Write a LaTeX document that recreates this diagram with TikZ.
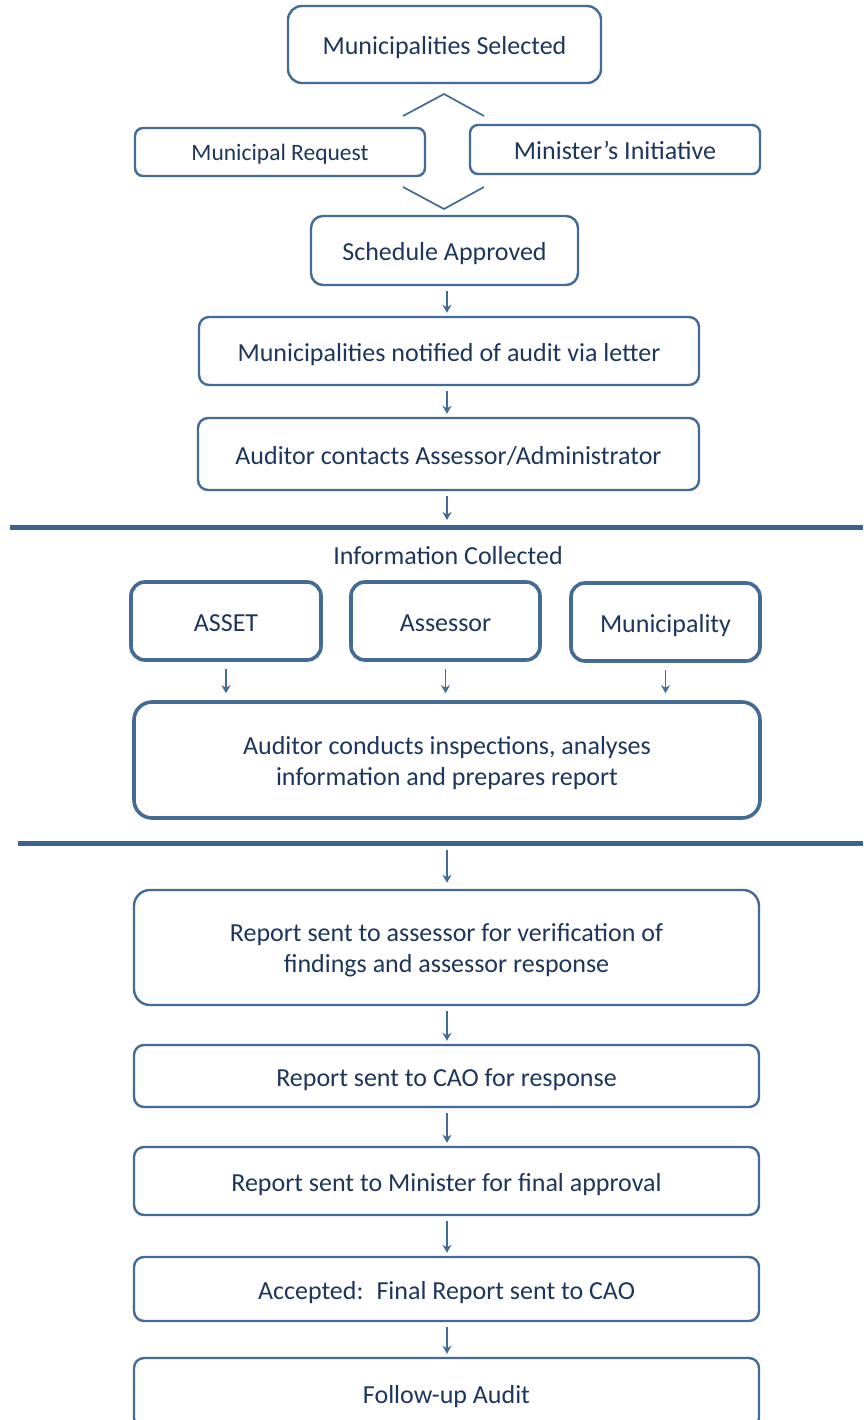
\documentclass[tikz,border=0pt]{standalone}
\usepackage{fontspec}
\setmainfont{Carlito}
\usetikzlibrary{arrows.meta}
\definecolor{boxBlue}{RGB}{68, 106, 150}
\definecolor{ruleBlue}{RGB}{60, 98, 142}
\definecolor{textNavy}{RGB}{30, 54, 92}

\begin{document}
\begin{tikzpicture}[x=1pt,y=-1pt,
    stagebox/.style={draw=boxBlue, line width=2.4pt, rounded corners=10pt, fill=white,
      text=textNavy, align=center, inner sep=0pt, text height=20pt, text depth=0pt,
      font=\fontsize{26}{31}\selectfont},
    twoline/.style={text height=50pt},
    sourcebox/.style={stagebox, line width=3.6pt, rounded corners=14pt},
    flow/.style={boxBlue, line width=1.8pt, -{Stealth[length=8pt,width=9pt,inset=2.5pt]},
      shorten <=5pt, shorten >=3pt},
    chev/.style={boxBlue, line width=1.7pt},
    divider/.style={ruleBlue, line width=5pt}]
        \clip (0,0) rectangle (863,1420);
        \fill[white] (0,0) rectangle (863,1420);
        % selection of municipalities
        \node[stagebox, rounded corners=14pt, minimum width=313pt, minimum height=77pt] (sel) at (444.5,44.5) {Municipalities Selected};
        \node[stagebox, rounded corners=8pt, minimum width=290pt, minimum height=48pt, text height=18pt, font=\fontsize{23.5}{28}\selectfont] (mreq) at (280,152) {Municipal Request};
        \node[stagebox, rounded corners=8pt, minimum width=290pt, minimum height=49pt] (mini) at (615,149.5) {Minister’s Initiative};
        \draw[chev] (403,116) -- (444,94) -- (484,116);
        \draw[chev] (403,187) -- (444,209) -- (484,187);
        \node[stagebox, rounded corners=12pt, minimum width=267pt, minimum height=69pt] (sched) at (444.5,250.5) {Schedule Approved};
        \node[stagebox, minimum width=500pt, minimum height=68pt] (notif) at (449,351) {Municipalities notified of audit via letter};
        \node[stagebox, minimum width=501pt, minimum height=72pt] (contact) at (448.5,454) {Auditor contacts Assessor/Administrator};
        \draw[flow] (sched.south -| 447,0) -- (notif.north -| 447,0);
        \draw[flow] (notif.south -| 447,0) -- (contact.north -| 447,0);
        % information collected
        \draw[divider] (10,527) -- (863,527);
        \coordinate (rule1) at (447,527);
        \draw[flow, shorten >=7pt] (contact.south -| rule1) -- (rule1);
        \node[text=textNavy, font=\fontsize{26}{31}\selectfont] (infotitle) at (448,556) {Information Collected};
        \node[sourcebox, minimum width=190pt, minimum height=78pt] (asset) at (226,621) {ASSET};
        \node[sourcebox, minimum width=189pt, minimum height=78pt] (assr) at (445.5,621) {Assessor};
        \node[sourcebox, minimum width=189pt, minimum height=78pt] (muni) at (665.5,622) {Municipality};
        \node[sourcebox, twoline, rounded corners=18pt, minimum width=626pt, minimum height=116pt] (conduct) at (447,760) {Auditor conducts inspections, analyses\\information and prepares report};
        \foreach \src in {asset,assr,muni}
          \draw[flow, shorten <=7pt, shorten >=7pt] (\src.south) -- (\src.south |- conduct.north);
        % reporting
        \draw[divider] (18,843) -- (863,843);
        \coordinate (rule2) at (447,843);
        \node[stagebox, twoline, rounded corners=16pt, minimum width=625pt, minimum height=115pt] (verif) at (446.5,947.5) {Report sent to assessor for verification of\\findings and assessor response};
        \node[stagebox, minimum width=625pt, minimum height=62pt] (cao) at (446.5,1076) {Report sent to CAO for response};
        \node[stagebox, minimum width=625pt, minimum height=68pt] (minis) at (446.5,1181) {Report sent to Minister for final approval};
        \node[stagebox, minimum width=625pt, minimum height=64pt] (accept) at (446.5,1289) {Accepted:\enspace Final Report sent to CAO};
        \node[stagebox, minimum width=625pt, minimum height=70pt] (follow) at (446.5,1393) {Follow-up Audit};
        \draw[flow, shorten <=7pt, shorten >=6pt] (rule2) -- (rule2 |- verif.north);
        \draw[flow] (verif.south -| rule2) -- (cao.north -| rule2);
        \draw[flow] (cao.south -| rule2) -- (minis.north -| rule2);
        \draw[flow] (minis.south -| rule2) -- (accept.north -| rule2);
        \draw[flow] (accept.south -| rule2) -- (follow.north -| rule2);
      \end{tikzpicture}
\end{document}
